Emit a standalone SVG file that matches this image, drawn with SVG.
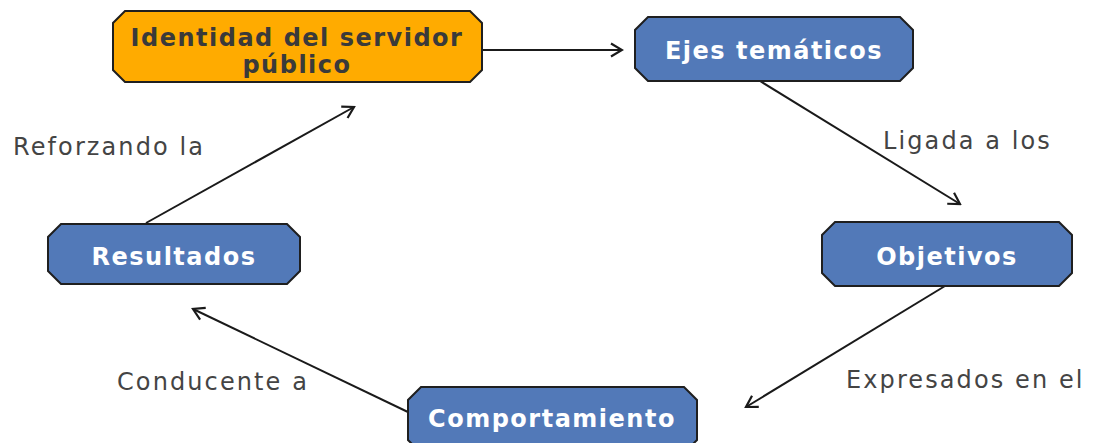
<svg xmlns="http://www.w3.org/2000/svg" width="1101" height="443" viewBox="0 0 1101 443">
<defs>
<style>
.node{stroke:#1f1f1f;stroke-width:2;stroke-linejoin:miter}
.blue{fill:#5279b8}
.orange{fill:#ffab00}
.nt{font-family:"DejaVu Sans","Open Sans",sans-serif;font-weight:700;font-size:24px;letter-spacing:1.5px;text-anchor:middle}
.wt{fill:#ffffff}
.dt{fill:#3a3a3a}
.lbl{font-family:"DejaVu Sans","Open Sans",sans-serif;font-size:24px;fill:#444444;letter-spacing:2.1px}
.conn{stroke:#1a1a1a;stroke-width:2;fill:none;marker-end:url(#arr)}
</style>
<marker id="arr" viewBox="0 0 16 16" refX="14" refY="8" markerWidth="16" markerHeight="16" markerUnits="userSpaceOnUse" orient="auto">
<path d="M3,1.5 L14,8 L3,14.5" fill="none" stroke="#1a1a1a" stroke-width="2.2"/>
</marker>
</defs>
<rect width="1101" height="443" fill="#ffffff"/>
<g id="connectors">
<line class="conn" x1="483" y1="50" x2="622" y2="50"/>
<line class="conn" x1="760" y1="81" x2="960" y2="204"/>
<line class="conn" x1="945" y1="286" x2="746" y2="407"/>
<line class="conn" x1="410" y1="413" x2="193" y2="309"/>
<line class="conn" x1="146" y1="223" x2="354" y2="107"/>
</g>
<g id="labels">
<text class="lbl" x="13" y="155">Reforzando la</text>
<text class="lbl" x="883" y="149">Ligada a los</text>
<text class="lbl" x="117" y="390">Conducente a</text>
<text class="lbl" x="846" y="388">Expresados en el</text>
</g>
<g id="node-identidad">
<polygon class="node orange" points="125,11 470,11 482,23 482,70 470,82 125,82 113,70 113,23"/>
<text class="nt dt" x="297" y="46">Identidad del servidor</text>
<text class="nt dt" x="297" y="73">público</text>
</g>
<g id="node-ejes">
<polygon class="node blue" points="648,17 900,17 913,30 913,68 900,81 648,81 635,68 635,30"/>
<text class="nt wt" x="774" y="59">Ejes temáticos</text>
</g>
<g id="node-objetivos">
<polygon class="node blue" points="835,222 1059,222 1072,235 1072,273 1059,286 835,286 822,273 822,235"/>
<text class="nt wt" x="947" y="265">Objetivos</text>
</g>
<g id="node-resultados">
<polygon class="node blue" points="61,224 287,224 300,237 300,271 287,284 61,284 48,271 48,237"/>
<text class="nt wt" x="174" y="265">Resultados</text>
</g>
<g id="node-comportamiento">
<polygon class="node blue" points="421,387 684,387 697,400 697,440 684,453 421,453 408,440 408,400"/>
<text class="nt wt" x="552" y="427">Comportamiento</text>
</g>
</svg>
